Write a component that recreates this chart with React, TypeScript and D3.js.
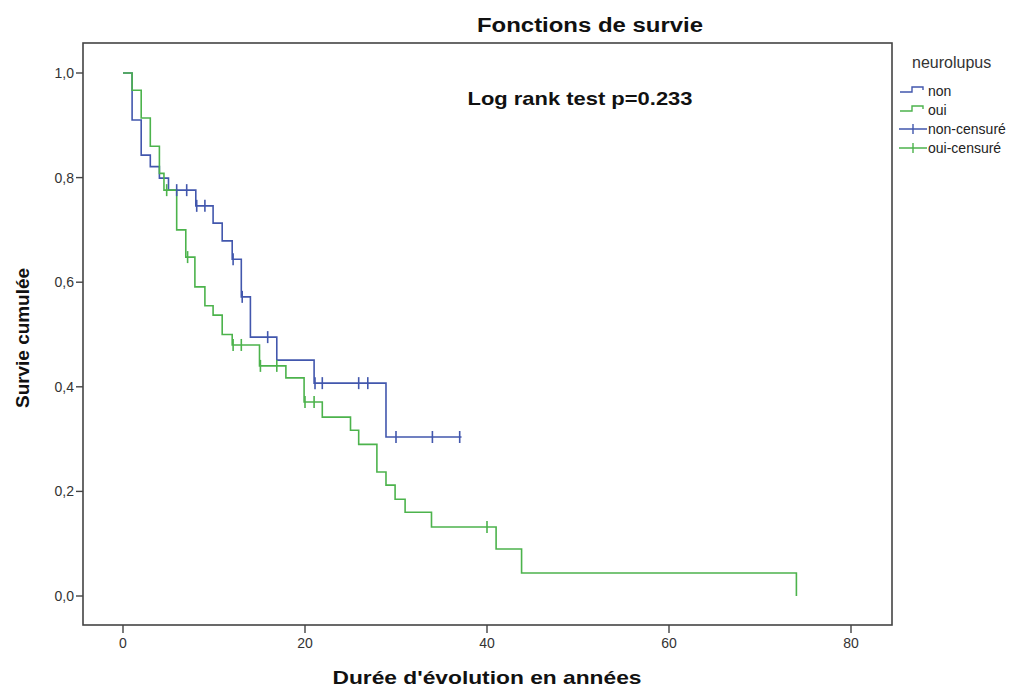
import * as d3 from 'd3';
import React, { useRef, useEffect } from 'react';

// Kaplan-Meier steps (time in years, cumulative survival)
const nonTimes = [0, 1.0, 2.0, 3.0, 4.0, 5.0, 8.0, 9.9, 10.9, 12.0, 13.0, 14.0, 16.9, 21.0, 28.9];
const nonSurv = [1.0, 0.91, 0.843, 0.821, 0.799, 0.776, 0.746, 0.713, 0.679, 0.644, 0.572, 0.495, 0.451, 0.407, 0.304];
const nonEnd = 37.2;
const nonCensored = [5.9, 7.0, 8.1, 9.0, 12.1, 13.1, 15.9, 21.1, 21.9, 25.9, 26.9, 30.0, 34.0, 37.0];

const ouiTimes = [0, 1.0, 2.0, 3.0, 4.0, 4.5, 5.9, 6.9, 7.9, 9.0, 9.9, 10.9, 12.0, 15.0, 17.9, 19.9, 21.9, 25.0, 25.9, 27.9, 28.9, 29.9, 31.0, 33.9, 41.0, 43.8, 74.0];
const ouiSurv = [1.0, 0.967, 0.914, 0.86, 0.808, 0.776, 0.70, 0.648, 0.591, 0.555, 0.537, 0.50, 0.48, 0.44, 0.417, 0.371, 0.342, 0.317, 0.29, 0.237, 0.212, 0.185, 0.16, 0.132, 0.09, 0.044, 0.0];
const ouiCensored = [4.8, 7.1, 12.1, 13.0, 15.1, 16.9, 20.0, 21.0, 40.0];

const xTicks = [0, 20, 40, 60, 80];
const yTicks = [0, 0.2, 0.4, 0.6, 0.8, 1.0];
const legendLabels = ['non', 'oui', 'non-censuré', 'oui-censuré'];

const BLUE = '#4257ad';
const GREEN = '#4cb34c';
const FONT = '"Liberation Sans", Arial, sans-serif';

function survAt(times, surv, t) {
    let s = surv[0];
    times.forEach((tt, i) => { if (tt <= t) s = surv[i]; });
    return s;
}

export default function App() {
    const ref = useRef(null);
    const width = 1025;
    const height = 688;

    useEffect(() => {
        const svg = d3.select(ref.current);
        svg.selectAll('*').remove();

        const x = d3.scaleLinear().domain([0, 80]).range([123, 851]);
        const y = d3.scaleLinear().domain([0, 1]).range([596, 73]);
        const frame = { left: 83, top: 43, right: 892, bottom: 625 };

        svg.append('rect').attr('width', width).attr('height', height).attr('fill', '#fff');

        // frame
        svg.append('rect')
            .attr('x', frame.left).attr('y', frame.top)
            .attr('width', frame.right - frame.left).attr('height', frame.bottom - frame.top)
            .attr('fill', 'none').attr('stroke', '#444').attr('stroke-width', 1.6);

        // y axis ticks
        const yg = svg.append('g');
        yTicks.forEach(v => {
            yg.append('line')
                .attr('x1', frame.left - 7).attr('x2', frame.left)
                .attr('y1', y(v)).attr('y2', y(v))
                .attr('stroke', '#444').attr('stroke-width', 1.4);
            yg.append('text')
                .attr('x', frame.left - 9).attr('y', y(v)).attr('dy', '0.35em')
                .attr('text-anchor', 'end')
                .attr('font-family', FONT).attr('font-size', 14).attr('fill', '#333')
                .text(d3.format('.1f')(v).replace('.', ','));
        });

        // x axis ticks
        const xg = svg.append('g');
        xTicks.forEach(v => {
            xg.append('line')
                .attr('x1', x(v)).attr('x2', x(v))
                .attr('y1', frame.bottom).attr('y2', frame.bottom + 8)
                .attr('stroke', '#444').attr('stroke-width', 1.4);
            xg.append('text')
                .attr('x', x(v)).attr('y', frame.bottom + 18).attr('dy', '0.35em')
                .attr('text-anchor', 'middle')
                .attr('font-family', FONT).attr('font-size', 14).attr('fill', '#333')
                .text(v);
        });

        const line = d3.line().x(d => x(d[0])).y(d => y(d[1])).curve(d3.curveStepAfter);

        const nonPts = nonTimes.map((t, i) => [t, nonSurv[i]]);
        nonPts.push([nonEnd, nonSurv[nonSurv.length - 1]]);
        const ouiPts = ouiTimes.map((t, i) => [t, ouiSurv[i]]);

        svg.append('path').datum(nonPts).attr('d', line)
            .attr('fill', 'none').attr('stroke', BLUE).attr('stroke-width', 1.6);
        svg.append('path').datum(ouiPts).attr('d', line)
            .attr('fill', 'none').attr('stroke', GREEN).attr('stroke-width', 1.6);

        const censor = (arr, times, surv, color) => {
            svg.append('g').selectAll('line').data(arr).enter().append('line')
                .attr('x1', d => x(d)).attr('x2', d => x(d))
                .attr('y1', d => y(survAt(times, surv, d)) - 6)
                .attr('y2', d => y(survAt(times, surv, d)) + 6)
                .attr('stroke', color).attr('stroke-width', 1.6);
        };
        censor(ouiCensored, ouiTimes, ouiSurv, GREEN);
        censor(nonCensored, nonTimes, nonSurv, BLUE);

        // titles
        svg.append('text')
            .attr('x', 590).attr('y', 25).attr('dy', '0.35em').attr('text-anchor', 'middle')
            .attr('font-family', FONT).attr('font-size', 20).attr('font-weight', 'bold').attr('fill', '#111')
            .attr('textLength', 226).attr('lengthAdjust', 'spacingAndGlyphs')
            .text('Fonctions de survie');
        svg.append('text')
            .attr('x', 580).attr('y', 98).attr('dy', '0.35em').attr('text-anchor', 'middle')
            .attr('font-family', FONT).attr('font-size', 19).attr('font-weight', 'bold').attr('fill', '#111')
            .attr('textLength', 225).attr('lengthAdjust', 'spacingAndGlyphs')
            .text('Log rank test p=0.233');
        svg.append('text')
            .attr('x', 487).attr('y', 677).attr('dy', '0.35em').attr('text-anchor', 'middle')
            .attr('font-family', FONT).attr('font-size', 19).attr('font-weight', 'bold').attr('fill', '#111')
            .attr('textLength', 309).attr('lengthAdjust', 'spacingAndGlyphs')
            .text("Durée d'évolution en années");
        svg.append('text')
            .attr('transform', 'translate(22,338) rotate(-90)').attr('dy', '0.35em').attr('text-anchor', 'middle')
            .attr('font-family', FONT).attr('font-size', 19).attr('font-weight', 'bold').attr('fill', '#111')
            .attr('textLength', 140).attr('lengthAdjust', 'spacingAndGlyphs')
            .text('Survie cumulée');

        // legend
        const lg = svg.append('g');
        lg.append('text')
            .attr('x', 912).attr('y', 62).attr('dy', '0.35em')
            .attr('font-family', FONT).attr('font-size', 16).attr('fill', '#333')
            .text('neurolupus');
        const ly = d3.scalePoint().domain(legendLabels).range([91, 148]);
        legendLabels.forEach((lab, i) => {
            const yy = ly(lab);
            const col = i % 2 === 0 ? BLUE : GREEN;
            if (i < 2) {
                lg.append('path')
                    .attr('d', `M900,${yy + 1}H912V${yy - 4}H923V${yy - 1}`)
                    .attr('fill', 'none').attr('stroke', col).attr('stroke-width', 1.4);
            } else {
                lg.append('path')
                    .attr('d', `M899,${yy}H927M913,${yy - 5}V${yy + 5}`)
                    .attr('fill', 'none').attr('stroke', col).attr('stroke-width', 1.4);
            }
            lg.append('text')
                .attr('x', 928).attr('y', yy).attr('dy', '0.35em')
                .attr('font-family', FONT).attr('font-size', 14).attr('fill', '#222')
                .text(lab);
        });
    }, []);

    return (
        <div style={{ position: 'absolute', left: 0, top: 0 }}>
            <svg ref={ref} width={width} height={height} style={{ display: 'block' }}></svg>
        </div>
    );
}
